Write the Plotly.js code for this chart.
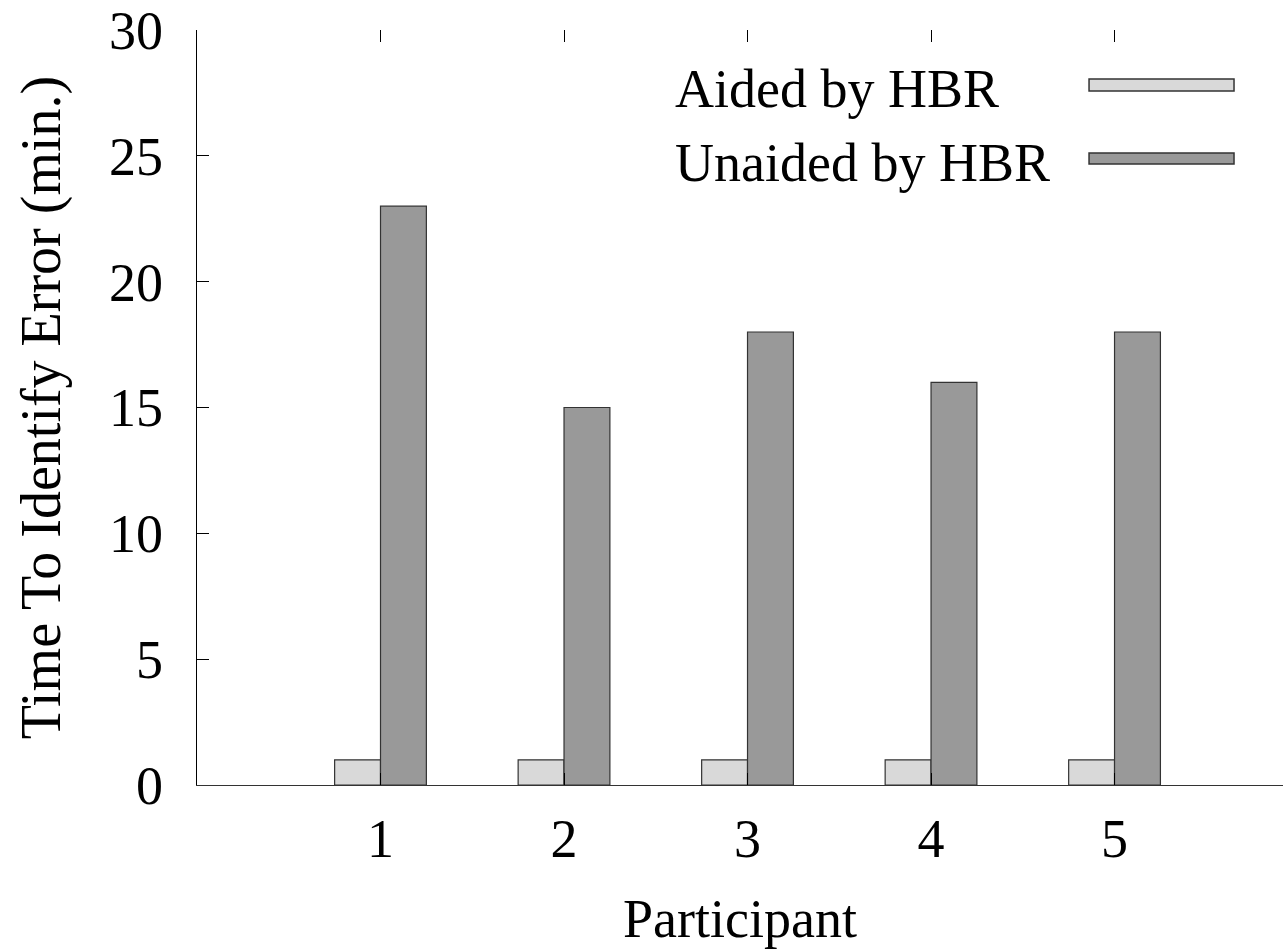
<!DOCTYPE html>
<html>
<head>
<meta charset="utf-8">
<script src="https://cdn.plot.ly/plotly-3.0.1.min.js"></script>
<style>html,body{margin:0;padding:0;background:#fff;}#chart{width:1283px;height:949px;}</style>
</head>
<body>
<div id="chart"></div>
<script>
const participants = [1, 2, 3, 4, 5];
const aided = [1, 1, 1, 1, 1];
const unaided = [23, 15, 18, 16, 18];
const seriesNames = ["Aided by HBR", "Unaided by HBR"];
const seriesColors = ["#d9d9d9", "#999999"];
const yTicks = [0, 5, 10, 15, 20, 25, 30];

const FONT = "Liberation Serif, Times New Roman, serif";
const outline = {color: "#333333", width: 1.2};

const traces = [
  {type: "bar", x: participants, y: aided, name: seriesNames[0], width: 0.25, offset: -0.25,
   marker: {color: seriesColors[0], line: outline}, showlegend: false, hoverinfo: "x+y"},
  {type: "bar", x: participants, y: unaided, name: seriesNames[1], width: 0.25, offset: 0,
   marker: {color: seriesColors[1], line: outline}, showlegend: false, hoverinfo: "x+y"},
  {type: "scatter", x: [], y: [], xaxis: "x2", yaxis: "y", showlegend: false, hoverinfo: "skip"}
];

// legend drawn as shapes + text (gnuplot style: text left, wide sample box right)
const legY = [[0.9192, 0.9351], [0.8225, 0.8371]];
const legTextY = [0.9219, 0.8238];
const shapes = seriesNames.map((n, i) => ({
  type: "rect", xref: "paper", yref: "paper",
  x0: 0.8214, x1: 0.9549, y0: legY[i][0], y1: legY[i][1],
  fillcolor: seriesColors[i], line: {color: "#333333", width: 1.5}
}));
const annotations = seriesNames.map((n, i) => ({
  text: n, xref: "paper", yref: "paper", x: 0.4383, y: legTextY[i],
  xanchor: "left", yanchor: "middle", showarrow: false,
  font: {family: FONT, size: 54, color: "#000"}
}));

const layout = {
  width: 1283, height: 949,
  margin: {l: 197, r: 0, t: 30, b: 164, pad: 0},
  paper_bgcolor: "#fff", plot_bgcolor: "#fff",
  font: {family: FONT, size: 54, color: "#000"},
  barmode: "overlay",
  xaxis: {
    range: [0, 5.918], tickvals: participants, ticktext: participants.map(String),
    ticks: "inside", ticklen: 12, tickcolor: "#000", tickwidth: 1,
    showline: true, linecolor: "#333333", linewidth: 1.2,
    showgrid: false, zeroline: false, automargin: false,
    ticklabelstandoff: 6,
    tickfont: {family: FONT, size: 54, color: "#000"},
    title: {text: "Participant", font: {family: FONT, size: 54, color: "#000"}, standoff: 52}
  },
  xaxis2: {
    range: [0, 5.918], overlaying: "x", side: "top", anchor: "y",
    tickvals: participants, showticklabels: false,
    ticks: "inside", ticklen: 12, tickcolor: "#000", tickwidth: 1,
    showline: false, showgrid: false, zeroline: false
  },
  yaxis: {
    range: [0, 30], tickvals: yTicks, ticktext: yTicks.map(String),
    ticks: "inside", ticklen: 12, tickcolor: "#000", tickwidth: 1,
    showline: true, linecolor: "#000", linewidth: 1.2,
    showgrid: false, zeroline: false, automargin: false,
    ticklabelstandoff: 22,
    tickfont: {family: FONT, size: 54, color: "#000"},
    title: {text: "Time To Identify Error (min.)", font: {family: FONT, size: 56, color: "#000"}, standoff: 30}
  },
  shapes: shapes,
  annotations: annotations,
  showlegend: false
};

Plotly.newPlot("chart", traces, layout, {displayModeBar: false, staticPlot: true});
</script>
</body>
</html>
